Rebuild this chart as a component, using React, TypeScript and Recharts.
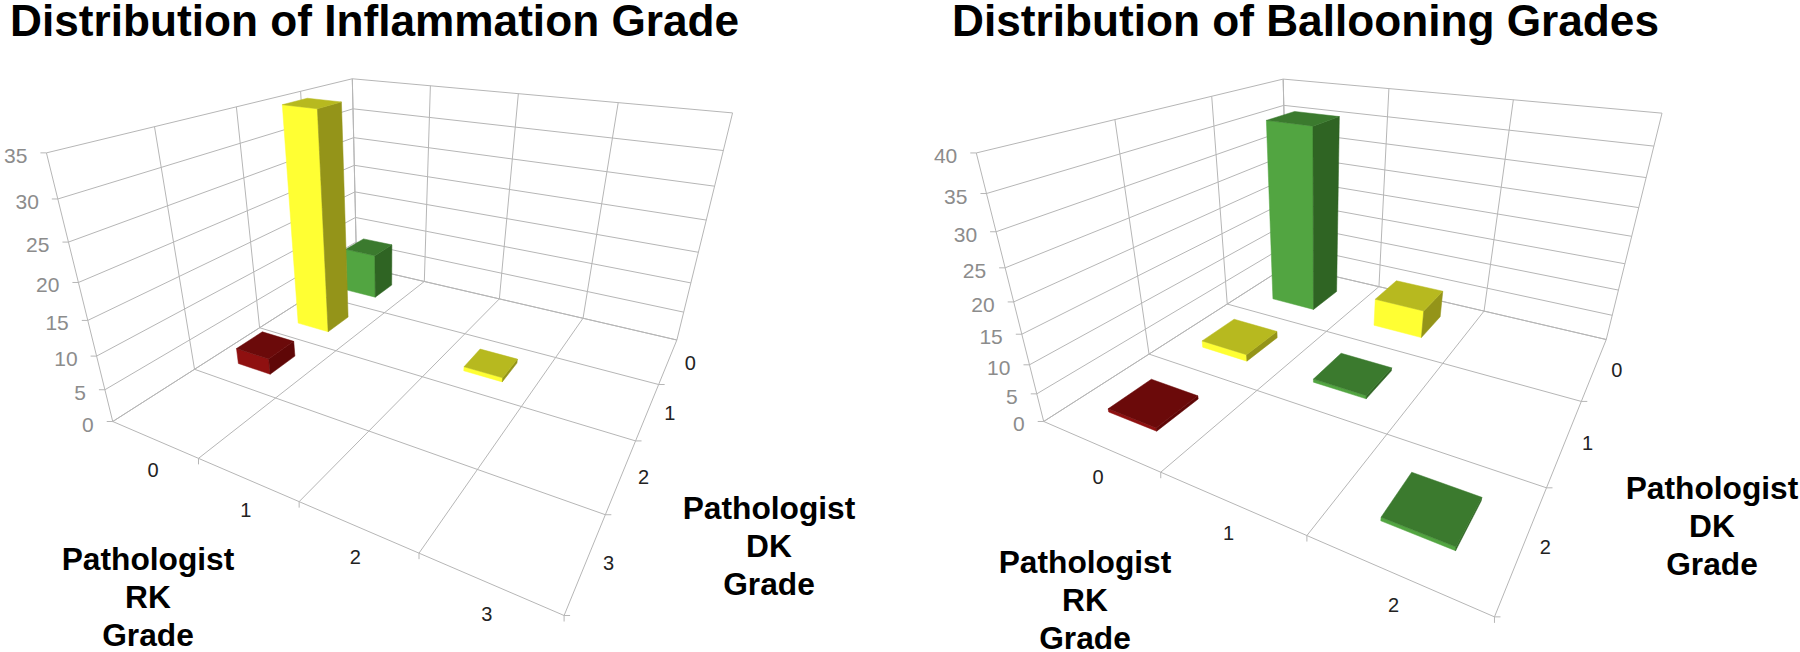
import React from 'react'
import { ScatterChart, Scatter, XAxis, YAxis, ReferenceLine } from 'recharts'

// Inflammation panel data
const inflammationRk = [0, 0, 0, 2]
const inflammationDk = [0, 1, 2, 1]
const inflammationCounts = [8, 35, 2.6, 0.7]
const inflammationGrades = ['0', '1', '2', '3']
const inflammationTicks = [0, 5, 10, 15, 20, 25, 30, 35]

// Ballooning panel data
const ballooningRk = [0, 1, 0, 1, 0, 2]
const ballooningDk = [0, 0, 1, 1, 2, 2]
const ballooningCounts = [35.5, 5.5, 1.3, 0.6, 0.6, 0.6]
const ballooningGrades = ['0', '1', '2']
const ballooningTicks = [0, 5, 10, 15, 20, 25, 30, 35, 40]

const GRID = '#b6b6b6'
const FONT = '"Liberation Sans", Arial, sans-serif'

// bar colours by how far the two pathologists disagree
const PALETTE = [
  { front: '#52a541', side: '#2f6423', top: '#3b7a2e' },
  { front: '#ffff33', side: '#949419', top: '#b7b91f' },
  { front: '#8f1010', side: '#5f0707', top: '#6b0a0a' },
]

// [u, v, z, pixelX, pixelY] reference points of each perspective box
const INFLAMMATION_VIEW = [
  [0, 4, 0, 113, 423], [1, 4, 0, 199, 459], [3, 4, 0, 419, 553], [4, 4, 0, 563, 615],
  [4, 0, 0, 677, 340], [4, 1, 0, 660, 385], [4, 3, 0, 605, 514], [0, 0, 0, 357, 265],
  [2, 0, 0, 498, 299], [0, 3, 0, 195, 369], [0, 4, 35, 47, 152], [0, 2, 35, 237, 107],
  [0, 0, 35, 352, 79], [2, 0, 35, 518, 94], [4, 0, 35, 733, 113], [0, 4, 20, 77, 282],
]
const BALLOONING_VIEW = [
  [0, 3, 0, 1044, 423], [1, 3, 0, 1161, 472], [2, 3, 0, 1307, 536], [3, 3, 0, 1494, 615],
  [3, 0, 0, 1607, 340], [3, 1, 0, 1582, 402], [3, 2, 0, 1547, 487], [0, 0, 0, 1290, 264],
  [0, 2, 0, 1148, 355], [0, 1, 0, 1227, 304], [1, 0, 0, 1378, 286], [2, 0, 0, 1482, 312],
  [0, 3, 40, 977, 152], [0, 2, 40, 1115, 119], [0, 1, 40, 1212, 97], [0, 0, 40, 1283, 79],
  [1, 0, 40, 1388, 89], [2, 0, 40, 1513, 100], [3, 0, 40, 1663, 113], [0, 3, 20, 1013, 302],
]

// least squares fit of a 3D -> 2D projective camera
function fitCamera(view: number[][], zMax: number) {
  const rows: number[][] = []
  const rhs: number[] = []
  view.forEach(([u, v, z, px, py]) => {
    const Z = (z / zMax) * 4
    const x = px / 1000
    const y = py / 1000
    rows.push([u, v, Z, 1, 0, 0, 0, 0, -x * u, -x * v, -x * Z])
    rhs.push(x)
    rows.push([0, 0, 0, 0, u, v, Z, 1, -y * u, -y * v, -y * Z])
    rhs.push(y)
  })
  const n = 11
  const m = Array.from({ length: n }, (_, i) =>
    Array.from({ length: n + 1 }, (_, j) =>
      rows.reduce((s, r, k) => s + r[i] * (j === n ? rhs[k] : r[j]), 0),
    ),
  )
  for (let c = 0; c < n; c++) {
    let p = c
    for (let r = c + 1; r < n; r++) if (Math.abs(m[r][c]) > Math.abs(m[p][c])) p = r
    ;[m[c], m[p]] = [m[p], m[c]]
    for (let r = 0; r < n; r++) {
      if (r === c) continue
      const f = m[r][c] / m[c][c]
      for (let j = c; j <= n; j++) m[r][j] -= f * m[c][j]
    }
  }
  const cam = m.map((r, i) => r[n] / r[i])
  return (u: number, v: number, z: number) => {
    const Z = (z / zMax) * 4
    const w = cam[8] * u + cam[9] * v + cam[10] * Z + 1
    return {
      x: ((cam[0] * u + cam[1] * v + cam[2] * Z + cam[3]) / w) * 1000,
      y: ((cam[4] * u + cam[5] * v + cam[6] * Z + cam[7]) / w) * 1000,
    }
  }
}

function TextMark(props: any) {
  const t = props.payload
  return (
    <text
      x={props.cx}
      y={props.cy}
      textAnchor={t.anchor}
      fontFamily={FONT}
      fontSize={t.size}
      fontWeight={t.weight}
      fill={t.fill}
    >
      {t.text}
    </text>
  )
}

const poly = (pts: { x: number; y: number }[], fill: string) => (
  <polygon points={pts.map((p) => `${p.x},${p.y}`).join(' ')} fill={fill} stroke={fill} strokeWidth={0.5} />
)

interface PanelProps {
  left: number
  title: string
  titleX: number
  rk: number[]
  dk: number[]
  counts: number[]
  grades: string[]
  ticks: number[]
  view: number[][]
  barSize: number
  rkNameX: number
  rkNameY: number
  dkNameX: number
  dkNameY: number
}

function Panel({ left, title, titleX, rk, dk, counts, grades, ticks, view, barSize, rkNameX, rkNameY, dkNameX, dkNameY }: PanelProps) {
  const zMax = ticks[ticks.length - 1]
  const n = grades.length
  const project = fitCamera(view, zMax)

  const segments: { a: any; b: any }[] = []
  for (let i = 0; i <= n; i++) {
    segments.push({ a: project(i, 0, 0), b: project(i, n, 0) }) // floor
    segments.push({ a: project(0, i, 0), b: project(n, i, 0) })
    segments.push({ a: project(0, i, 0), b: project(0, i, zMax) }) // left wall
    segments.push({ a: project(i, 0, 0), b: project(i, 0, zMax) }) // back wall
  }
  ticks.forEach((t) => {
    segments.push({ a: project(0, n, t), b: project(0, 0, t) })
    segments.push({ a: project(0, 0, t), b: project(n, 0, t) })
    const p = project(0, n, t)
    segments.push({ a: p, b: { x: p.x - 6, y: p.y } })
  })
  for (let i = 1; i <= n; i++) {
    const p = project(i, n, 0)
    segments.push({ a: p, b: { x: p.x, y: p.y + 6 } })
    const q = project(n, i, 0)
    segments.push({ a: q, b: { x: q.x + 6, y: q.y } })
  }

  const heading = (text: string, x: number, y: number, size: number, anchor: string) => ({
    x, y, text, size, anchor, weight: 700, fill: '#000',
  })
  const labels: any[] = [heading(title, titleX, 36, 44.2, 'start')]
  ;['Pathologist', 'RK', 'Grade'].forEach((t, i) => labels.push(heading(t, rkNameX, rkNameY + i * 38, 31.7, 'middle')))
  ;['Pathologist', 'DK', 'Grade'].forEach((t, i) => labels.push(heading(t, dkNameX, dkNameY + i * 38, 31.7, 'middle')))
  ticks.forEach((t) => {
    const p = project(0, n, t)
    labels.push({ x: p.x - 19, y: p.y + 10, text: String(t), size: 21, anchor: 'end', weight: 400, fill: '#8c8c8c' })
  })
  grades.forEach((g, i) => {
    const a = project(i + 0.5, n, 0)
    const b = project(n, i + 0.5, 0)
    labels.push({ x: a.x - 1, y: a.y + 38, text: g, size: 20, anchor: 'middle', weight: 400, fill: '#222' })
    labels.push({ x: b.x + 22, y: b.y + 9, text: g, size: 20, anchor: 'middle', weight: 400, fill: '#222' })
  })

  // back bars first so the nearer ones paint over them
  const bars = rk
    .map((r, i) => ({ rk: r, dk: dk[i], count: counts[i], ...project(r + 0.5, dk[i] + 0.5, 0) }))
    .sort((a, b) => a.rk + a.dk - (b.rk + b.dk))

  const renderBar = (props: any) => {
    const b = props.payload
    const c = PALETTE[Math.abs(b.rk - b.dk)]
    const h = barSize / 2
    const u = b.rk + 0.5
    const v = b.dk + 0.5
    const at = (du: number, dv: number, z: number) => {
      const p = project(u + du, v + dv, z)
      return { x: props.cx + p.x - b.x, y: props.cy + p.y - b.y }
    }
    return (
      <g>
        {poly([at(-h, h, 0), at(h, h, 0), at(h, h, b.count), at(-h, h, b.count)], c.front)}
        {poly([at(h, h, 0), at(h, -h, 0), at(h, -h, b.count), at(h, h, b.count)], c.side)}
        {poly([at(-h, h, b.count), at(h, h, b.count), at(h, -h, b.count), at(-h, -h, b.count)], c.top)}
      </g>
    )
  }

  return (
    <ScatterChart width={900} height={652} margin={{ top: 0, right: 0, bottom: 0, left: 0 }}>
      <XAxis type="number" dataKey="x" domain={[left, left + 900]} hide allowDataOverflow />
      <YAxis type="number" dataKey="y" domain={[0, 652]} reversed hide allowDataOverflow />
      {segments.map((s, i) => (
        <ReferenceLine key={i} segment={[s.a, s.b]} stroke={GRID} strokeWidth={1} ifOverflow="visible" />
      ))}
      <Scatter data={bars} shape={renderBar} isAnimationActive={false} />
      <Scatter data={labels} shape={TextMark} isAnimationActive={false} />
    </ScatterChart>
  )
}

export default function App() {
  return (
    <div style={{ position: 'absolute', left: 0, top: 0, width: 1800, height: 652, display: 'flex', background: '#fff' }}>
      <Panel
        left={0}
        title="Distribution of Inflammation Grade"
        titleX={10}
        rk={inflammationRk}
        dk={inflammationDk}
        counts={inflammationCounts}
        grades={inflammationGrades}
        ticks={inflammationTicks}
        view={INFLAMMATION_VIEW}
        barSize={0.4}
        rkNameX={148}
        rkNameY={570}
        dkNameX={769}
        dkNameY={519}
      />
      <Panel
        left={900}
        title="Distribution of Ballooning Grades"
        titleX={952}
        rk={ballooningRk}
        dk={ballooningDk}
        counts={ballooningCounts}
        grades={ballooningGrades}
        ticks={ballooningTicks}
        view={BALLOONING_VIEW}
        barSize={0.42}
        rkNameX={1085}
        rkNameY={573}
        dkNameX={1712}
        dkNameY={499}
      />
    </div>
  )
}
